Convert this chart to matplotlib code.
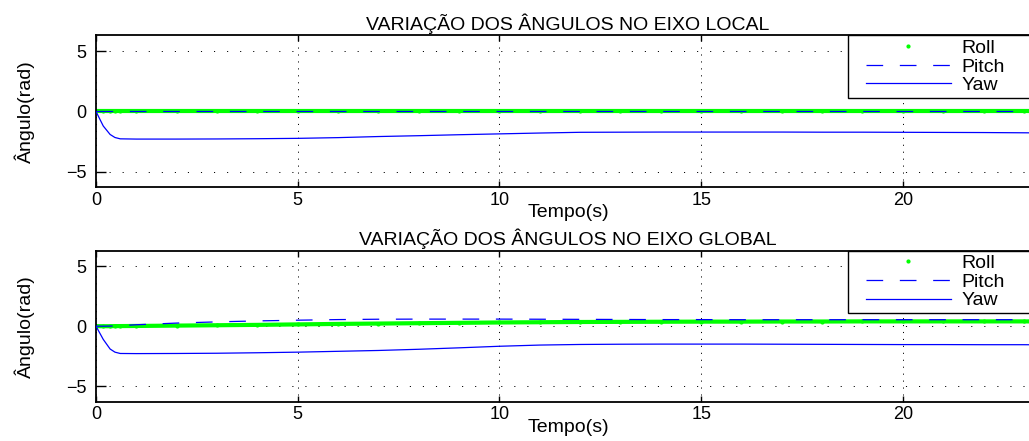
import matplotlib
matplotlib.use('Agg')
import matplotlib.pyplot as plt
from matplotlib.lines import Line2D
from matplotlib.legend_handler import HandlerLine2D
import numpy as np

# ---------------- data ----------------
t = [0, 0.18, 0.35, 0.47, 0.6, 1, 2, 3, 4, 5, 6, 7, 8, 9, 10, 11, 12, 13,
     14, 15, 16, 17, 18, 19, 20, 21, 22, 23, 23.4]

roll_local = [0, 0, 0, 0, 0, 0, 0, 0, 0, 0, 0, 0, 0, 0, 0, 0, 0, 0,
              0, 0, 0, 0, 0, 0, 0, 0, 0, 0, 0]
pitch_local = [0, 0, 0, 0, 0, 0, 0, 0, 0, 0, 0, 0, 0, 0, 0, 0, 0, 0,
               0, 0, 0, 0, 0, 0, 0, 0, 0, 0, 0]
yaw_local = [0, -1.2, -1.9, -2.15, -2.26, -2.28, -2.28, -2.27, -2.25, -2.22,
             -2.16, -2.07, -2.0, -1.92, -1.85, -1.78, -1.72, -1.71, -1.70,
             -1.70, -1.70, -1.70, -1.71, -1.71, -1.72, -1.73, -1.74, -1.76, -1.77]

roll_global = [0, 0, 0, 0.01, 0.01, 0.02, 0.05, 0.08, 0.11, 0.15, 0.19, 0.22,
               0.25, 0.28, 0.31, 0.33, 0.35, 0.36, 0.37, 0.38, 0.38, 0.39,
               0.39, 0.40, 0.40, 0.40, 0.40, 0.40, 0.40]
pitch_global = [0, 0.0, 0.01, 0.02, 0.04, 0.12, 0.26, 0.36, 0.44, 0.50, 0.55,
                0.58, 0.59, 0.59, 0.59, 0.58, 0.57, 0.56, 0.55, 0.55, 0.54,
                0.54, 0.54, 0.54, 0.54, 0.54, 0.54, 0.54, 0.54]
yaw_global = [0, -1.1, -1.9, -2.16, -2.27, -2.28, -2.27, -2.25, -2.21, -2.16,
              -2.09, -2.02, -1.92, -1.80, -1.67, -1.57, -1.52, -1.50, -1.49,
              -1.49, -1.49, -1.50, -1.51, -1.52, -1.53, -1.53, -1.54, -1.54, -1.55]

titles = ['VARIAÇÃO DOS ÂNGULOS NO EIXO LOCAL',
          'VARIAÇÃO DOS ÂNGULOS NO EIXO GLOBAL']
series_labels = ['Roll', 'Pitch', 'Yaw']
xticks = [0, 5, 10, 15, 20]
yticks = [-5, 0, 5]
xlabel = 'Tempo(s)'
ylabel = 'Ângulo(rad)'

# ---------------- style ----------------
plt.rcParams['font.family'] = ['Liberation Sans', 'DejaVu Sans']
plt.rcParams['lines.scale_dashes'] = False
FS = 13
FS_BIG = 14

W, H = 1029, 441
fig = plt.figure(figsize=(W / 100, H / 100), dpi=100)


def add_ax(top_px, bot_px):
    return fig.add_axes([96 / W, 1 - bot_px / H, (1040 - 96) / W,
                         (bot_px - top_px) / H])


axes = [add_ax(35.5, 187.5), add_ax(250.7, 401.7)]
data = [(roll_local, pitch_local, yaw_local),
        (roll_global, pitch_global, yaw_global)]

green = '#00ff00'
for ax, (roll, pitch, yaw), title in zip(axes, data, titles):
    ax.plot(t, roll, '-', color=green, lw=3, zorder=2, label='_nolegend_')
    ax.plot(t, roll, '.', color=green, ms=4, zorder=2, label=series_labels[0])
    ax.plot(t, pitch, color='b', lw=0.9, dashes=(12, 12), zorder=3,
            label=series_labels[1])
    ax.plot(t, yaw, color='b', lw=0.9, zorder=4, label=series_labels[2])

    ax.set_xlim(0, 23.4)
    ax.set_ylim(-2 * np.pi, 2 * np.pi)
    ax.set_xticks(xticks)
    ax.set_yticks(yticks)
    ax.xaxis.grid(True, linestyle=(0, (0.8, 4.2)), color='k', lw=0.7)
    ax.yaxis.grid(True, linestyle=(0, (0.8, 8.6)), color='k', lw=0.7)
    ax.set_axisbelow(True)
    ax.tick_params(axis='x', direction='in', top=True, length=4, width=1,
                   labelsize=FS, pad=3)
    ax.tick_params(axis='y', direction='in', right=True, length=7, width=1,
                   labelsize=FS, pad=7)
    for sp in ax.spines.values():
        sp.set_linewidth(1.3)
    ax.set_title(title, fontsize=FS_BIG, pad=4)
    ax.set_xlabel(xlabel, fontsize=FS_BIG, labelpad=-3)
    ax.set_ylabel(ylabel, fontsize=FS_BIG)
    ax.yaxis.set_label_coords(-0.065, 0.5)

    x0 = (848 - 96) / (1040 - 96)
    leg = ax.legend(loc='upper left', bbox_to_anchor=(x0, 0, 1.05 - x0, 1),
                    mode='expand', borderaxespad=0, fancybox=False,
                    edgecolor='k', framealpha=1, fontsize=FS_BIG,
                    handlelength=5.1, handletextpad=0.55, borderpad=0.2,
                    labelspacing=0.05,
                    handler_map={Line2D: HandlerLine2D(xpad=0.7)})
    leg.get_frame().set_linewidth(1.0)

fig.savefig('out.png', dpi=100)
